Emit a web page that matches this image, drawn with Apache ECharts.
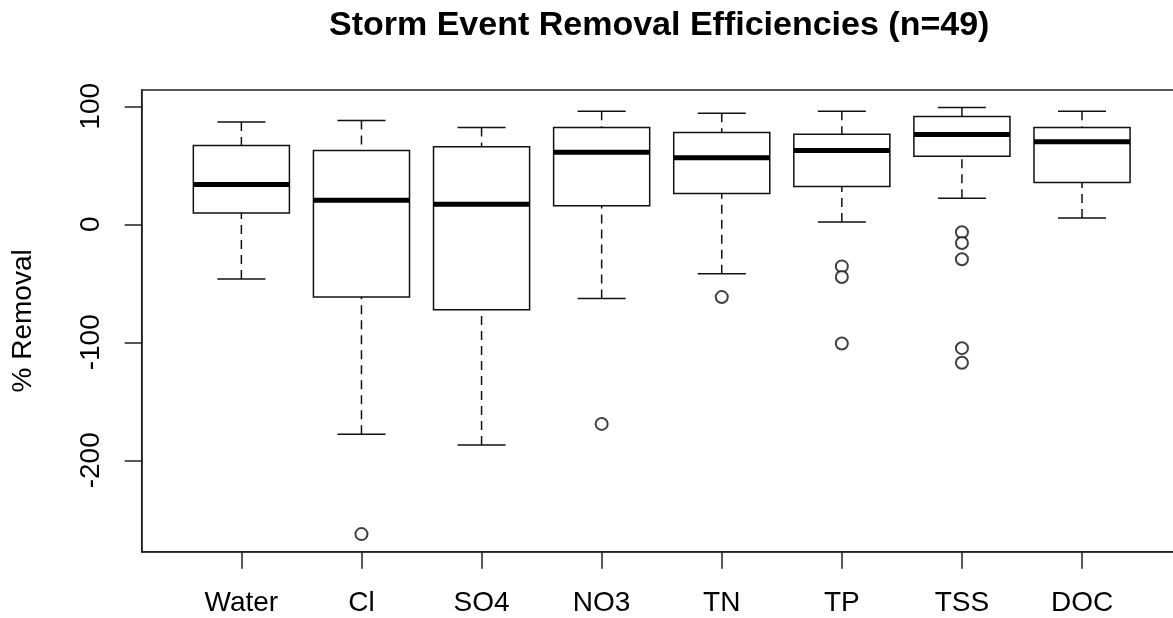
<!DOCTYPE html>
<html>
<head>
<meta charset="utf-8">
<title>Storm Event Removal Efficiencies</title>
<script src="https://cdn.jsdelivr.net/npm/echarts@6/dist/echarts.min.js"></script>
<style>
  html, body { margin: 0; padding: 0; background: #fff; }
  #main { width: 1173px; height: 618px; }
</style>
</head>
<body>
<div id="main"></div>
<script type="text/javascript">
	// values (% removal)
	var categories   = ['Water', 'Cl', 'SO4', 'NO3', 'TN', 'TP', 'TSS', 'DOC'];
	var whiskerLow   = [-46.4, -178, -187, -63, -41.9, 2, 22, 5.3];
	var lowerQuart   = [9.6, -61.7, -72.4, 15.6, 26, 32, 57.7, 35.4];
	var medians      = [33.7, 20.4, 17, 61.1, 56.3, 62.6, 76.1, 69.9];
	var upperQuart   = [66.8, 62.6, 65.6, 82, 77.8, 76.4, 91.4, 82];
	var whiskerHigh  = [86.6, 88, 82, 95.7, 94.2, 95.7, 99, 95.7];
	// outliers: category index + value
	var outlierCat   = [1, 3, 4, 5, 5, 5, 6, 6, 6, 6, 6];
	var outlierVal   = [-262.6, -169.2, -61.7, -35.7, -44.7, -101, -6.8, -15.9, -29.7, -105, -117.4];
	var yTicks       = [-200, -100, 0, 100];

	var FONT = "'Liberation Sans', Arial, sans-serif";
	var INK = '#111';

	var boxData = categories.map(function (c, i) {
		return [i + 1, whiskerLow[i], lowerQuart[i], medians[i], upperQuart[i], whiskerHigh[i]];
	});
	var outlierData = outlierCat.map(function (c, i) {
		return [c + 1, outlierVal[i]];
	});
	var xTicks = categories.map(function (c, i) { return i + 1; });

	function renderBox(params, api) {
		var x = api.value(0);
		var lo = api.coord([x, api.value(1)]);
		var b1 = api.coord([x, api.value(2)]);
		var md = api.coord([x, api.value(3)]);
		var b3 = api.coord([x, api.value(4)]);
		var hi = api.coord([x, api.value(5)]);
		var half = api.size([0.8, 0])[0] / 2;
		var cap = half / 2;
		var solid = { stroke: INK, lineWidth: 1.5 };
		var dashed = { stroke: INK, lineWidth: 1.5, lineDash: [9, 6] };
		return {
			type: 'group',
			children: [
				{ type: 'line', shape: { x1: lo[0], y1: lo[1], x2: lo[0], y2: b1[1] }, style: dashed },
				{ type: 'line', shape: { x1: hi[0], y1: hi[1], x2: hi[0], y2: b3[1] }, style: dashed },
				{ type: 'line', shape: { x1: lo[0] - cap, y1: lo[1], x2: lo[0] + cap, y2: lo[1] }, style: solid },
				{ type: 'line', shape: { x1: hi[0] - cap, y1: hi[1], x2: hi[0] + cap, y2: hi[1] }, style: solid },
				{ type: 'rect', shape: { x: b3[0] - half, y: b3[1], width: half * 2, height: b1[1] - b3[1] },
					style: { fill: '#fff', stroke: INK, lineWidth: 1.5 } },
				{ type: 'line', shape: { x1: md[0] - half, y1: md[1], x2: md[0] + half, y2: md[1] },
					style: { stroke: '#000', lineWidth: 5 } }
			]
		};
	}

	var myChart = echarts.init(document.getElementById('main'));
	var option = {
		backgroundColor: '#fff',
		animation: false,
		title: {
			text: 'Storm Event Removal Efficiencies (n=49)',
			left: 324,
			top: 4,
			textStyle: { fontFamily: FONT, fontSize: 34, fontWeight: 'bold', color: '#000' }
		},
		grid: {
			left: 141.7,
			right: -8.7,
			top: 90,
			bottom: 66.3,
			containLabel: false,
			outerBoundsMode: 'none',
			show: true,
			borderColor: '#222',
			borderWidth: 1.5,
			backgroundColor: 'transparent'
		},
		xAxis: {
			type: 'value',
			min: 0.17,
			max: 8.83,
			axisLine: { show: true, onZero: false, lineStyle: { color: '#222', width: 1.5 } },
			axisTick: { show: true, customValues: xTicks, length: 17, lineStyle: { color: '#222', width: 1.5 } },
			axisLabel: {
				customValues: xTicks,
				margin: 38,
				fontFamily: FONT,
				fontSize: 28,
				color: '#000',
				formatter: function (v) { return categories[Math.round(v) - 1] || ''; }
			},
			splitLine: { show: false }
		},
		yAxis: {
			type: 'value',
			min: -277.5,
			max: 113.8,
			name: '% Removal',
			nameLocation: 'middle',
			nameGap: 104,
			nameRotate: 90,
			nameTextStyle: { fontFamily: FONT, fontSize: 28, color: '#000' },
			axisLine: { show: true, onZero: false, lineStyle: { color: '#222', width: 1.5 } },
			axisTick: { show: true, customValues: yTicks, length: 17, lineStyle: { color: '#222', width: 1.5 } },
			axisLabel: {
				customValues: yTicks,
				rotate: 90,
				margin: 36,
				fontFamily: FONT,
				fontSize: 28,
				color: '#000'
			},
			splitLine: { show: false }
		},
		series: [
			{
				type: 'custom',
				renderItem: renderBox,
				encode: { x: 0, y: [1, 2, 3, 4, 5] },
				data: boxData,
				z: 2
			},
			{
				type: 'scatter',
				symbol: 'emptyCircle',
				symbolSize: 12,
				itemStyle: { color: INK, borderColor: INK, borderWidth: 1.5 },
				data: outlierData,
				z: 3
			}
		]
	};
	myChart.setOption(option);
</script>
</body>
</html>
